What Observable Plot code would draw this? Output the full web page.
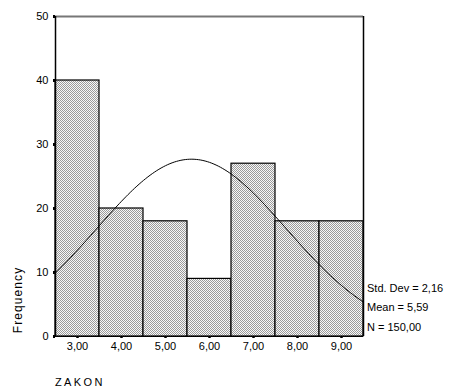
<!DOCTYPE html>
<html>
<head>
<meta charset="utf-8">
<script src="https://cdn.jsdelivr.net/npm/d3@7"></script>
<script src="https://cdn.jsdelivr.net/npm/@observablehq/plot@0.6"></script>
<style>
  html, body { margin: 0; padding: 0; background: #fff; }
  svg { font-family: "Liberation Sans", Arial, sans-serif; }
</style>
</head>
<body>
<div id="chart"></div>
<script>
// Histogram data (ZAKON)
const binCenters = [3, 4, 5, 6, 7, 8, 9];
const binLabels = ["3,00", "4,00", "5,00", "6,00", "7,00", "8,00", "9,00"];
const frequencies = [40, 20, 18, 9, 27, 18, 18];
const yTicks = [0, 10, 20, 30, 40, 50];
const statLines = ["Std. Dev = 2,16", "Mean = 5,59", "N = 150,00"];
const stdDev = 2.16;
const mean = 5.59;
const nTotal = 150;
const binWidth = 1;

const bars = binCenters.map((c, i) => ({ c, f: frequencies[i] }));

// Fitted normal curve from the stated mean / std. dev / N
const curve = d3.range(2.5, 9.5001, 0.05).map(x => ({
  x,
  y: nTotal * binWidth * Math.exp(-0.5 * ((x - mean) / stdDev) ** 2) / (stdDev * Math.sqrt(2 * Math.PI))
}));

const chart = Plot.plot({
  width: 449,
  height: 389,
  marginLeft: 55,
  marginRight: 86,
  marginTop: 16,
  marginBottom: 53,
  style: { fontFamily: "'Liberation Sans', Arial, sans-serif", fontSize: "11px", color: "black", background: "white" },
  x: { domain: [2.5, 9.5] },
  y: { domain: [0, 50] },
  marks: [
    Plot.rect(bars, { x1: d => d.c - 0.5, x2: d => d.c + 0.5, y1: 0, y2: "f", fill: "url(#hatch)", stroke: "black", strokeWidth: 1.2 }),
    Plot.line(curve, { x: "x", y: "y", stroke: "black", strokeWidth: 1, clip: true }),
    Plot.ruleY([50], { stroke: "#777", strokeWidth: 2 }),
    Plot.ruleX([9.5], { stroke: "black", strokeWidth: 1.5 }),
    Plot.ruleX([2.5], { stroke: "black", strokeWidth: 1.5 }),
    Plot.ruleY([0], { stroke: "black", strokeWidth: 1.2 }),
    Plot.axisY({ ticks: yTicks, tickSize: 2, tickPadding: 5, strokeWidth: 3, label: null, fontSize: 11 }),
    Plot.axisX({ ticks: binCenters, tickFormat: (d) => binLabels[binCenters.indexOf(d)], tickSize: 2, tickPadding: 4, strokeWidth: 2.5, label: null, fontSize: 11 })
  ]
});

// hatch pattern definition
const svg = d3.select(chart);
const defs = svg.insert("defs", ":first-child");
const pat = defs.append("pattern").attr("id", "hatch").attr("patternUnits", "userSpaceOnUse")
  .attr("width", 2).attr("height", 2);
pat.append("rect").attr("width", 2).attr("height", 2).attr("fill", "#f8f8f8");
pat.append("rect").attr("x", 0).attr("y", 0).attr("width", 1).attr("height", 1).attr("fill", "#9a9a9a");
pat.append("rect").attr("x", 1).attr("y", 1).attr("width", 1).attr("height", 1).attr("fill", "#9a9a9a");

// axis titles and statistics
svg.append("text").attr("transform", "translate(21.5,300) rotate(-90)")
  .attr("text-anchor", "middle").attr("font-size", 12).attr("letter-spacing", "1.1px")
  .attr("fill", "black").text("Frequency");
svg.append("text").attr("x", 55).attr("y", 385.5).attr("font-size", 11)
  .attr("text-anchor", "start").attr("letter-spacing", "2.4px").attr("fill", "black").text("ZAKON");
statLines.forEach((s, i) => {
  svg.append("text").attr("x", 367).attr("y", 291.5 + i * 19.7).attr("font-size", 11)
    .attr("text-anchor", "start").attr("fill", "black").text(s);
});

document.getElementById("chart").appendChild(chart);
</script>
</body>
</html>
